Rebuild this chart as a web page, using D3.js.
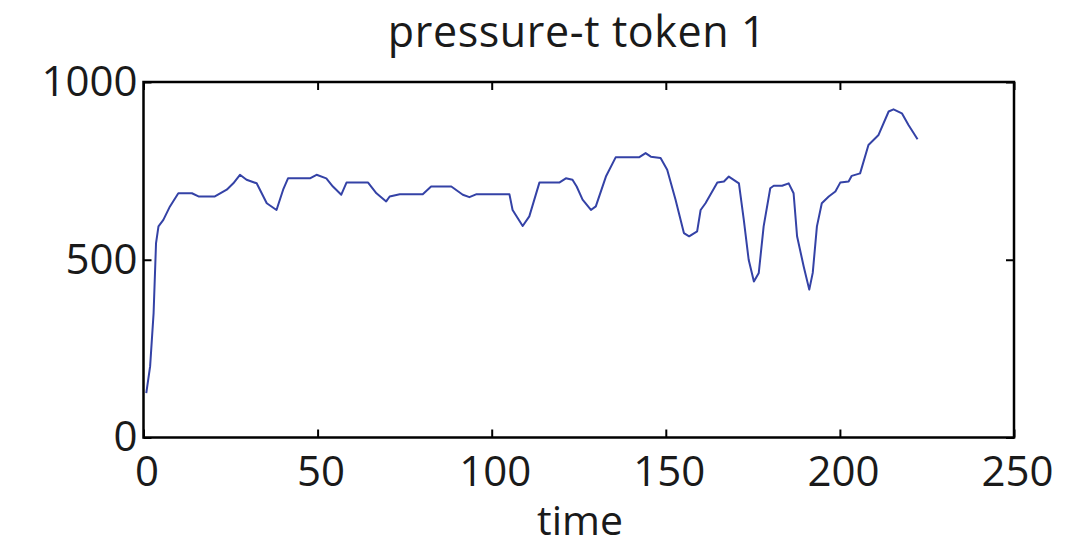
<!DOCTYPE html>
<html>
<head>
<meta charset="utf-8">
<script src="https://cdn.jsdelivr.net/npm/d3@7"></script>
<style>
  html, body { margin: 0; padding: 0; background: #fff; }
  svg text { font-family: "Open Sans", "Liberation Sans", sans-serif; fill: #1a1a1a; }
</style>
</head>
<body>
<div id="chart"></div>
<script>
// Data
const times = [0.8, 1.9, 2.9, 3.6, 4.3, 5.7, 7.6, 10, 13.9, 15.8, 20.5, 23.9, 25.8, 27.7, 29.6, 32.5, 35.4, 38.2, 40.1, 41.5, 47.8, 49.7, 52.5, 54.4, 56.8, 58.3, 64.5, 66.9, 69.7, 70.7, 73.6, 80.2, 82.6, 88.4, 91.7, 93.6, 95.5, 105.1, 106, 108.9, 110.8, 113.7, 119.4, 121.3, 123.2, 124.4, 126.1, 128.5, 129.9, 132.8, 135.6, 142.3, 144.2, 145.7, 148.5, 150.4, 152.8, 155.2, 156.7, 159, 160, 161.4, 164.8, 166.7, 168.1, 171, 172.4, 173.8, 175.3, 176.7, 178.1, 180, 181, 183.4, 185.3, 186.7, 187.7, 189.6, 191.2, 192.2, 193.4, 194.8, 196.8, 198.7, 200.1, 202.5, 203.4, 205.8, 208.2, 211.1, 214, 215.4, 217.8, 219.7, 222.3];
const pressure = [125, 200, 350, 547, 594, 612, 650, 687, 687, 678, 678, 697, 715, 739, 725, 715, 659, 640, 697, 729, 729, 739, 729, 706, 683, 717, 717, 687, 664, 678, 684, 684, 706, 706, 683, 676, 684, 684, 640, 595, 622, 717, 717, 729, 725, 706, 669, 640, 650, 734, 788, 788, 800, 790, 786, 753, 669, 575, 566, 580, 640, 659, 717, 720, 734, 715, 612, 500, 439, 463, 594, 701, 708, 708, 715, 687, 566, 481, 416, 463, 594, 659, 678, 692, 717, 720, 736, 743, 823, 851, 917, 923, 912, 879, 839];
const xTicks = [0, 50, 100, 150, 200, 250];
const yTicks = [0, 500, 1000];
const chartTitle = "pressure-t token 1";
const xLabel = "time";

const W = 1075, H = 548;
const m = { left: 143.5, right: W - 1014, top: 82, bottom: H - 437.5 };
const iw = W - m.left - m.right, ih = H - m.top - m.bottom;

const svg = d3.select("#chart").append("svg").attr("width", W).attr("height", H);
const g = svg.append("g").attr("transform", `translate(${m.left},${m.top})`);

const x = d3.scaleLinear().domain([0, 250]).range([0, iw]);
const y = d3.scaleLinear().domain([0, 1000]).range([ih, 0]);

const data = times.map((t, i) => ({ t, v: pressure[i] }));

g.append("path")
  .datum(data)
  .attr("fill", "none")
  .attr("stroke", "#3442a6")
  .attr("stroke-width", 2)
  .attr("stroke-linejoin", "round")
  .attr("d", d3.line().x(d => x(d.t)).y(d => y(d.v)));

// axes with inward ticks on all four sides
const tickLen = 8;
const fs = 42;
const fmt = d3.format("d");
const axBottom = g.append("g").attr("transform", `translate(0,${ih})`)
  .call(d3.axisBottom(x).tickValues(xTicks).tickFormat(fmt).tickSizeInner(-tickLen).tickSizeOuter(0).tickPadding(19));
const axTop = g.append("g")
  .call(d3.axisTop(x).tickValues(xTicks).tickSizeInner(-tickLen).tickSizeOuter(0).tickFormat(""));
const axLeft = g.append("g")
  .call(d3.axisLeft(y).tickValues(yTicks).tickFormat(fmt).tickSizeInner(-tickLen).tickSizeOuter(0).tickPadding(6));
const axRight = g.append("g").attr("transform", `translate(${iw},0)`)
  .call(d3.axisRight(y).tickValues(yTicks).tickSizeInner(-tickLen).tickSizeOuter(0).tickFormat(""));

[axBottom, axTop, axLeft, axRight].forEach(a => {
  a.select(".domain").remove();
  a.selectAll(".tick line").attr("stroke", "#000").attr("stroke-width", 2);
  a.selectAll("text").attr("font-size", fs).attr("fill", "#1a1a1a")
    .style("font-family", "'Open Sans', 'Liberation Sans', sans-serif");
});
axBottom.selectAll("text").attr("dx", 3);

g.append("rect").attr("x", 0).attr("y", 0).attr("width", iw).attr("height", ih)
  .attr("fill", "none").attr("stroke", "#000").attr("stroke-width", 2.5);

svg.append("text").attr("x", 577).attr("y", 47).attr("text-anchor", "middle")
  .attr("font-size", 43).attr("letter-spacing", 0.6).text(chartTitle);
svg.append("text").attr("x", 580).attr("y", 535).attr("text-anchor", "middle")
  .attr("font-size", 41).text(xLabel);
</script>
</body>
</html>
